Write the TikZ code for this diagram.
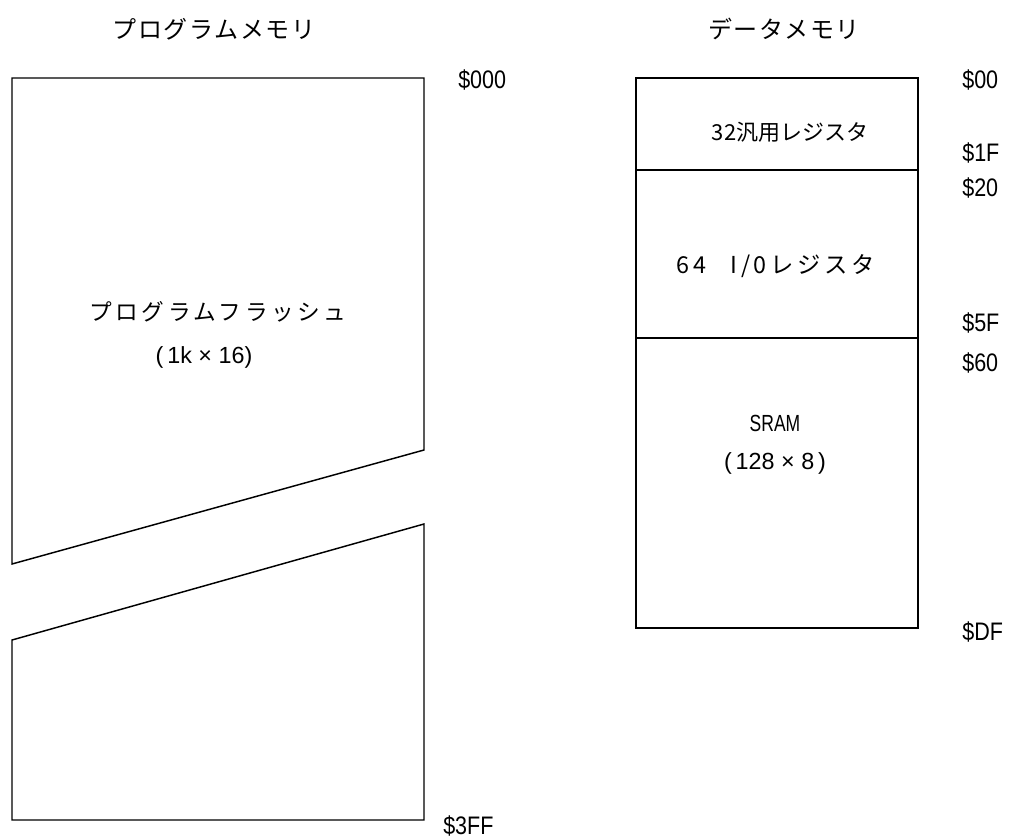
\documentclass[tikz,border=0pt]{standalone}
\usepackage{fontspec}
\setmainfont{Noto Sans CJK JP}
\newfontfamily\jpfont{Noto Sans CJK JP}
\newfontfamily\jpwide[LetterSpace=7]{Noto Sans CJK JP}
\newfontfamily\jpflash[LetterSpace=16]{Noto Sans CJK JP}
\newfontfamily\latfont{Liberation Sans}
\newfontfamily\labfont[FakeStretch=0.85]{Liberation Sans}
\newfontfamily\sramfont[FakeStretch=0.75]{Liberation Sans}
\begin{document}
\begin{tikzpicture}[x=0.75pt,y=-0.75pt,
  edge/.style={line width=1.1pt,line join=miter},
  addr/.style={font=\labfont\fontsize{19pt}{21pt}\selectfont,inner sep=0pt,anchor=west},
  title/.style={font=\jpwide\fontsize{18pt}{20pt}\selectfont,inner sep=0pt},
  body/.style={font=\jpfont\fontsize{16.5pt}{19pt}\selectfont,inner sep=0pt},
  sizes/.style={font=\latfont\fontsize{17.5pt}{20pt}\selectfont,inner sep=0pt},
  narrow/.style={font=\sramfont\fontsize{17.5pt}{20pt}\selectfont,inner sep=0pt}]
\useasboundingbox (0,0) rectangle (1010,839);
% titles
\node[title] (tprog) at (214,29) {プログラムメモリ};
\node[title] (tdata) at (784,29) {データメモリ};
% program memory
\draw[edge] (12,78) -- (424,78) -- (424,450) -- (12,564) -- cycle;
\draw[edge] (12,640) -- (424,524) -- (424,820) -- (12,820) -- cycle;
\node[body,font=\jpflash\fontsize{17pt}{19pt}\selectfont] (flash) at (218,312) {プログラムフラッシュ};
\node[sizes] (flashsz) at (204,357) {(\,1k × 16)};
\node[addr] (a000) at (458,80) {\$000};
\node[addr] (a3ff) at (443,826) {\$3FF};
% data memory
\draw[edge] (636,78) rectangle (918,628);
\draw[edge] (636,170) -- (918,170);
\draw[edge] (636,338) -- (918,338);
\node[body] (gpr) at (790,132) {32汎用レジスタ};
\node[body,font=\jpflash\fontsize{17.5pt}{19pt}\selectfont] (ior) at (776,266) {64\hspace{18pt}I/0レジスタ};
\node[narrow] (sram) at (775,423) {SRAM};
\node[sizes] (sramsz) at (775,463) {(\,128 × 8\,)};
\node[addr] (d00) at (962,80) {\$00};
\node[addr] (d1f) at (962,153) {\$1F};
\node[addr] (d20) at (962,188) {\$20};
\node[addr] (d5f) at (962,323) {\$5F};
\node[addr] (d60) at (962,363) {\$60};
\node[addr] (ddf) at (962,632) {\$DF};
\end{tikzpicture}
\end{document}
